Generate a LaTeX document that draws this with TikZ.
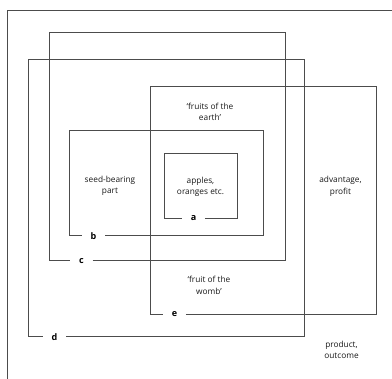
\documentclass[tikz,border=0pt]{standalone}
\usepackage{fontspec}
\setmainfont{Open Sans}
\tikzstyle{frame}=[draw=black!70,line width=.6pt]
\tikzstyle{tag}=[font=\bfseries\fontsize{9}{10}\selectfont,inner xsep=8.5pt,inner ysep=1pt]
\tikzstyle{txt}=[align=center,font=\fontsize{8.3}{11.5}\selectfont,text=black!90]

\begin{document}
\begin{tikzpicture}[x=1pt,y=-1pt]
\clip (0,0) rectangle (392,379);
\fill[white] (0,0) rectangle (392,379);
% labels on the frames
\node[tag] (a) at (193.5,218.3) {a};
\node[tag] (b) at (93.5,235.7) {b};
\node[tag] (c) at (81.5,260.7) {c};
\node[tag] (d) at (54.5,336.7) {d};
\node[tag] (e) at (174.5,314.3) {e};
\node[tag] (f) at (35,384) {f};
% frames
\draw[frame] (a.east) -| (237.3,153.3) -| (164.3,218.3) -- (a.west);
\draw[frame] (b.east) -| (263,130.7) -| (69,235.7) -- (b.west);
\draw[frame] (c.east) -| (285.7,32.3) -| (49.3,260.7) -- (c.west);
\draw[frame] (d.east) -| (304,59.3) -| (28.3,336.7) -- (d.west);
\draw[frame] (e.east) -| (376.7,86) -| (150.7,314.3) -- (e.west);
\draw[frame] (f.east) -| (400,10) -| (7.3,384) -- (f.west);
% texts
\node[txt] (earth) at (210,112) {`fruits of the\\earth'};
\node[txt] (seed) at (110,186) {seed-bearing\\part};
\node[txt] (apples) at (200.5,187) {apples,\\oranges etc.};
\node[txt] (profit) at (340.5,186.5) {advantage,\\profit};
\node[txt] (womb) at (209,285.5) {`fruit of the\\womb'};
\node[txt] (outcome) at (341.5,350) {product,\\outcome};
\end{tikzpicture}
\end{document}
